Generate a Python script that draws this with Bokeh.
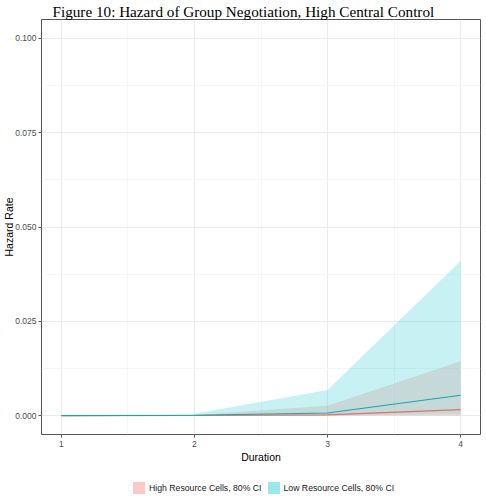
from bokeh.plotting import figure
from bokeh.layouts import column
from bokeh.models import (ColumnDataSource, FixedTicker, Legend, LegendItem,
                          Range1d, Title)
from bokeh.embed import file_html
from bokeh.resources import INLINE

# Estimated hazard by duration, with 80% confidence bands
durations = [1, 2, 3, 4]
high_est = [0.0, 0.00005, 0.0002, 0.0016]
high_lo = [0.0, 0.0, 0.0, 0.0]
high_hi = [0.0, 0.0002, 0.0026, 0.0144]
low_est = [0.0, 0.0001, 0.0007, 0.0054]
low_lo = [0.0, 0.0, 0.0001, 0.0003]
low_hi = [0.0, 0.0005, 0.0068, 0.0410]

x_ticks = [1, 2, 3, 4]
x_minor = [1.5, 2.5, 3.5]
y_ticks = [0.0, 0.025, 0.05, 0.075, 0.1]
y_minor = [0.0125, 0.0375, 0.0625, 0.0875]
y_labels = {0.0: "0.000", 0.025: "0.025", 0.05: "0.050", 0.075: "0.075", 0.1: "0.100"}

HIGH = "#F8766D"
LOW = "#00BFC4"

p = figure(width=486, height=465, output_backend="svg", toolbar_location=None,
           x_range=Range1d(0.85, 4.15), y_range=Range1d(-0.005, 0.105),
           min_border_left=0, min_border_right=6, min_border_top=0,
           min_border_bottom=0)

p.title = Title(text="Figure 10: Hazard of Group Negotiation, High Central Control",
                text_font="Liberation Serif", text_font_size="15.2px",
                text_font_style="normal", align="left", text_color="#000000",
                text_line_height=0.75, offset=11, standoff=0)

src = ColumnDataSource(dict(x=durations, hlo=high_lo, hhi=high_hi, hest=high_est,
                            llo=low_lo, lhi=low_hi, lest=low_est))

p.varea(x="x", y1="hlo", y2="hhi", source=src, fill_color=HIGH, fill_alpha=0.22)
p.varea(x="x", y1="llo", y2="lhi", source=src, fill_color=LOW, fill_alpha=0.22)
p.line(x="x", y="hest", source=src, line_color="#E0706A", line_width=1.1)
p.line(x="x", y="lest", source=src, line_color="#1AA5A9", line_width=1.1)

# axes
for ax in (p.xaxis[0], p.yaxis[0]):
    ax.major_label_text_font = "Liberation Sans"
    ax.major_label_text_font_size = "8.5px"
    ax.major_label_text_color = "#4D4D4D"
    ax.axis_label_text_font = "Liberation Sans"
    ax.axis_label_text_font_size = "10.5px"
    ax.axis_label_text_font_style = "normal"
    ax.axis_label_text_color = "#000000"
    ax.axis_line_color = None
    ax.major_tick_line_color = "#555555"
    ax.major_tick_in = 0
    ax.major_tick_out = 3
    ax.minor_tick_line_color = None

p.xaxis.ticker = FixedTicker(ticks=x_ticks, minor_ticks=x_minor)
p.yaxis.ticker = FixedTicker(ticks=y_ticks, minor_ticks=y_minor)
p.yaxis.major_label_overrides = y_labels
p.xaxis.axis_label = "Duration"
p.yaxis.axis_label = "Hazard Rate"
p.xaxis.major_label_standoff = 2
p.yaxis.major_label_standoff = 1
p.xaxis.axis_label_standoff = 1
p.yaxis.axis_label_standoff = -3

p.xgrid.grid_line_color = "#EBEBEB"
p.ygrid.grid_line_color = "#EBEBEB"
p.xgrid.minor_grid_line_color = "#F5F5F5"
p.ygrid.minor_grid_line_color = "#F5F5F5"

p.outline_line_color = "#555555"
p.outline_line_width = 1
p.background_fill_color = "white"
p.border_fill_color = "white"

# legend strip underneath the plot; its key renderers cover zero area
leg = figure(width=486, height=33, output_backend="svg", toolbar_location=None,
             x_range=Range1d(0, 1), y_range=Range1d(0, 1),
             x_axis_type=None, y_axis_type=None, min_border=0)
leg.outline_line_color = None
leg.xgrid.visible = False
leg.ygrid.visible = False
key_high = leg.varea(x=[0, 0], y1=[0, 0], y2=[0, 0], fill_color=HIGH, fill_alpha=0.38)
key_low = leg.varea(x=[0, 0], y1=[0, 0], y2=[0, 0], fill_color=LOW, fill_alpha=0.38)
legend = Legend(items=[LegendItem(label="High Resource Cells, 80% CI", renderers=[key_high]),
                       LegendItem(label="Low Resource Cells, 80% CI", renderers=[key_low])],
                orientation="horizontal", location=(90, 3),
                glyph_width=15, glyph_height=15, label_standoff=3, spacing=4,
                padding=0, margin=0, border_line_color=None,
                background_fill_alpha=0,
                label_text_font="Liberation Sans", label_text_font_size="8.7px",
                label_text_color="#1A1A1A")
leg.add_layout(legend, "center")

open("out.html", "w").write(file_html(column(p, leg, spacing=0), INLINE))
